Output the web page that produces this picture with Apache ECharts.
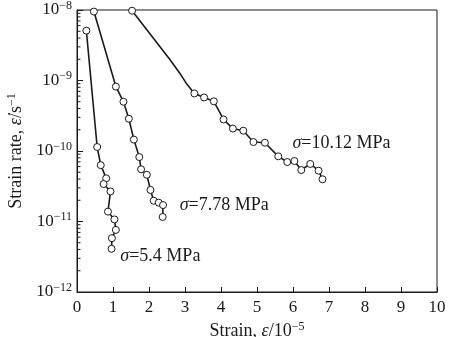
<!DOCTYPE html>
<html><head><meta charset="utf-8">
<script src="https://cdn.jsdelivr.net/npm/echarts@6/dist/echarts.min.js"></script>
<style>html,body{margin:0;padding:0;background:#fff}#c{width:450px;height:337px}</style>
</head><body><div id="c"></div>
<script>
// Creep strain rate vs. strain at three stress levels (strain in units of 1e-5)

// sigma = 5.4 MPa
const strain54 = [0.26, 0.56, 0.66, 0.81, 0.74, 0.93, 0.86, 1.04, 1.08, 0.97, 0.96];
const rate54   = [5.1e-9, 1.14e-10, 6.3e-11, 4.1e-11, 3.4e-11, 2.67e-11, 1.38e-11, 1.07e-11, 7.6e-12, 5.8e-12, 4.1e-12];

// sigma = 7.78 MPa
const strain778 = [0.47, 1.08, 1.29, 1.44, 1.58, 1.73, 1.78, 1.94, 2.04, 2.13, 2.27, 2.39, 2.38];
const rate778   = [9.5e-9, 8.2e-10, 5.0e-10, 2.87e-10, 1.45e-10, 8.2e-11, 5.5e-11, 4.6e-11, 2.8e-11, 1.97e-11, 1.85e-11, 1.71e-11, 1.16e-11];

// sigma = 10.12 MPa (the three unmarked points only shape the drawn curve)
const strain1012 = [1.53, 2.58, 2.86, 3.05, 3.26, 3.53, 3.80, 4.07, 4.33, 4.62, 4.90, 5.22, 5.59, 5.84, 6.04, 6.23, 6.48, 6.71, 6.82];
const rate1012   = [9.77e-9, 1.99e-9, 1.26e-9, 8.9e-10, 6.55e-10, 5.74e-10, 5.07e-10, 2.80e-10, 2.08e-10, 1.94e-10, 1.34e-10, 1.31e-10, 8.4e-11, 6.98e-11, 7.21e-11, 5.37e-11, 6.55e-11, 5.26e-11, 3.97e-11];
const marked1012 = [1, 0, 0, 0, 1, 1, 1, 1, 1, 1, 1, 1, 1, 1, 1, 1, 1, 1, 1];

// stress labels and where they sit (strain, rate)
const stressLabels = ['10.12', '7.78', '5.4'];
const labelAnchors = [[5.97, 1.30e-10], [2.84, 1.71e-11], [1.19, 3.17e-12]];

const xTicks = [0, 1, 2, 3, 4, 5, 6, 7, 8, 9, 10];
const yDecades = [-12, -11, -10, -9, -8];

const FONT = 'Liberation Serif';
const INK = '#1a1a1a';

// minor ticks of the log axis: 2..9 within each decade
const minorTicks = [];
for (let d = yDecades[0]; d < yDecades[yDecades.length - 1]; d++) {
  for (let k = 2; k <= 9; k++) minorTicks.push(k * Math.pow(10, d));
}

function pairs(xs, ys, flags) {
  return xs.map((x, i) => {
    const item = { value: [x, ys[i]] };
    if (flags && !flags[i]) item.symbol = 'none';
    return item;
  });
}

function labelPoint(idx) {
  return {
    symbol: 'circle', symbolSize: 1,
    itemStyle: { color: 'rgba(0,0,0,0)', borderWidth: 0 },
    silent: true,
    data: [{ coord: labelAnchors[idx] }],
    label: {
      show: true, position: 'right', distance: 0,
      formatter: '{i|σ}{t|=' + stressLabels[idx] + ' MPa}',
      rich: {
        i: { fontFamily: FONT, fontStyle: 'italic', fontSize: 18, color: INK },
        t: { fontFamily: FONT, fontSize: 18, color: INK }
      }
    }
  };
}

const lineStyleCommon = { color: INK, width: 1.6 };
const itemStyleCommon = { color: '#fff', borderColor: INK, borderWidth: 1 };

function curve(name, data, idx) {
  return {
    name, type: 'line', data,
    symbol: 'circle', symbolSize: 7,
    showAllSymbol: true,
    lineStyle: lineStyleCommon,
    itemStyle: itemStyleCommon,
    emphasis: { disabled: true },
    animation: false,
    z: 3,
    markPoint: labelPoint(idx)
  };
}

const nameRich = {
  i: { fontFamily: FONT, fontStyle: 'italic', fontSize: 18, color: INK },
  sup: { fontFamily: FONT, fontSize: 12, color: INK, padding: [0, 0, 9, 0] }
};

const chart = echarts.init(document.getElementById('c'), null, { renderer: 'canvas' });
chart.setOption({
  animation: false,
  backgroundColor: '#fff',
  grid: {
    left: 77, right: 13, top: 10, bottom: 45,
    outerBoundsMode: 'none', containLabel: false,
    show: true, borderColor: INK, borderWidth: 1, backgroundColor: 'transparent'
  },
  xAxis: {
    type: 'value', min: xTicks[0], max: xTicks[xTicks.length - 1], interval: 1,
    name: 'Strain, {i|ε}/10{sup|−5}',
    nameLocation: 'middle', nameGap: 27,
    nameTextStyle: { fontFamily: FONT, fontSize: 18, color: INK, rich: nameRich },
    axisLine: { lineStyle: { color: INK, width: 1 } },
    axisTick: { inside: true, length: 5, lineStyle: { color: INK } },
    axisLabel: { fontFamily: FONT, fontSize: 17, color: INK, margin: 7 },
    splitLine: { show: false }
  },
  yAxis: {
    type: 'log', logBase: 10,
    min: Math.pow(10, yDecades[0]), max: Math.pow(10, yDecades[yDecades.length - 1]),
    name: 'Strain rate, {i|ε̇}/s{sup|−1}',
    nameLocation: 'middle', nameGap: 49, nameRotate: 90,
    nameTextStyle: { fontFamily: FONT, fontSize: 18, color: INK, rich: nameRich },
    axisLine: { show: true, lineStyle: { color: INK, width: 1 } },
    axisTick: { inside: true, length: 6, lineStyle: { color: INK } },
    axisLabel: {
      fontFamily: FONT, fontSize: 17, color: INK, margin: 5,
      formatter: v => '10{sup|−' + Math.abs(Math.round(Math.log10(v))) + '}',
      rich: { sup: { fontFamily: FONT, fontSize: 12, color: INK, padding: [0, 0, 9, 0] } }
    },
    splitLine: { show: false }
  },
  series: [
    curve('5.4 MPa', pairs(strain54, rate54), 2),
    curve('7.78 MPa', pairs(strain778, rate778), 1),
    curve('10.12 MPa', pairs(strain1012, rate1012, marked1012), 0),
    {
      type: 'custom', silent: true, animation: false, z: 2,
      data: minorTicks.map(v => [xTicks[0], v]),
      renderItem: (params, api) => {
        const p = api.coord([api.value(0), api.value(1)]);
        return {
          type: 'line',
          shape: { x1: p[0], y1: p[1], x2: p[0] + 3.5, y2: p[1] },
          style: { stroke: INK, lineWidth: 1 }
        };
      }
    }
  ]
});
</script>
</body></html>
